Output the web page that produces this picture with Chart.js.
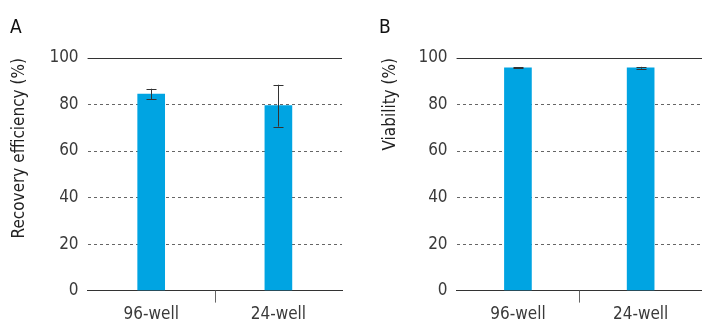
<!DOCTYPE html>
<html><head><meta charset="utf-8">
<script src="https://cdn.jsdelivr.net/npm/chart.js@4/dist/chart.umd.min.js"></script>
<style>
body{margin:0;background:#fff;width:702px;height:322px;overflow:hidden;position:relative;font-family:"DejaVu Sans Condensed",sans-serif;}
.box{position:absolute;top:0;height:322px;}
.lbl{position:absolute;top:15px;font-size:19px;color:#111;}
canvas{display:block;}
</style></head><body>
<div class="box" style="left:0;width:350px"><canvas id="cA" width="350" height="322"></canvas></div>
<div class="box" style="left:350px;width:352px"><canvas id="cB" width="352" height="322"></canvas></div>
<div class="lbl" style="left:10px">A</div>
<div class="lbl" style="left:379px">B</div>
<script>
const categories = ["96-well", "24-well"];
const recoveryValues = [84.5, 79.5];
const recoveryErrors = [2.3, 9.0];
const viabilityValues = [95.8, 95.8];
const viabilityErrors = [0.3, 0.4];
const yTicks = [0, 20, 40, 60, 80, 100];

const FONT = "'DejaVu Sans Condensed',sans-serif";
const TXT = '#3a3a3a';

const errPlugin = {
  id: 'errs',
  afterDatasetsDraw(chart) {
    const ctx = chart.ctx, y = chart.scales.y, x = chart.scales.x;
    const errs = chart.options.plugins.errs.errors;
    const vals = chart.data.datasets[0].data;
    const meta = chart.getDatasetMeta(0);
    ctx.save();
    ctx.strokeStyle = '#333'; ctx.lineWidth = 1;
    meta.data.forEach((bar, i) => {
      const cx = Math.round(bar.x) + 0.5;
      const t = y.getPixelForValue(vals[i] + errs[i]);
      const b = y.getPixelForValue(vals[i] - errs[i]);
      ctx.beginPath();
      ctx.moveTo(cx, t); ctx.lineTo(cx, b);
      ctx.moveTo(cx - 5, Math.round(t)+0.5); ctx.lineTo(cx + 5, Math.round(t)+0.5);
      ctx.moveTo(cx - 5, Math.round(b)+0.5); ctx.lineTo(cx + 5, Math.round(b)+0.5);
      ctx.stroke();
    });
    const ty = Math.round(y.getPixelForValue(y.max)) + 0.5;
    ctx.strokeStyle = '#333';
    ctx.beginPath(); ctx.moveTo(chart.chartArea.left, ty); ctx.lineTo(chart.chartArea.right, ty); ctx.stroke();
    const mx = Math.round((x.getPixelForTick(0) + x.getPixelForTick(1)) / 2) + 0.5;
    const by = chart.chartArea.bottom;
    ctx.strokeStyle = '#666';
    ctx.beginPath(); ctx.moveTo(mx, by); ctx.lineTo(mx, by + 12); ctx.stroke();
    ctx.restore();
  }
};

function make(id, values, errors, title, padLeft, padRight, titleGap) {
  return new Chart(document.getElementById(id), {
    type: 'bar',
    data: { labels: categories, datasets: [{ data: values, backgroundColor: '#00a4e2', barThickness: 27 }] },
    plugins: [errPlugin],
    options: {
      responsive: false, animation: false,
      devicePixelRatio: 1,
      layout: { padding: { top: 58, left: padLeft, right: padRight, bottom: -17 } },
      plugins: { legend: { display: false }, tooltip: { enabled: false }, errs: { errors } },
      scales: {
        x: {
          grid: { display: false, drawTicks: false },
          border: { display: true, color: '#333', width: 1 },
          ticks: { color: TXT, font: { family: FONT, size: 17 }, padding: 14 }
        },
        y: {
          min: 0, max: 100,
          afterBuildTicks: s => { s.ticks = yTicks.map(v => ({ value: v })); },
          grid: { color: '#666', drawTicks: false, lineWidth: 1 },
          border: { display: false, dash: [3, 3] },
          ticks: { color: TXT, font: { family: FONT, size: 17 }, padding: 9 },
          title: { display: true, text: title, align: 'end', color: '#222', font: { family: FONT, size: 17 }, padding: { top: 0, bottom: titleGap } }
        }
      }
    }
  });
}
make('cA', recoveryValues, recoveryErrors, 'Recovery efficiency (%)', 9, 8, 11);
make('cB', viabilityValues, viabilityErrors, 'Viability (%)', 30, 0, 9);
</script>
</body></html>
